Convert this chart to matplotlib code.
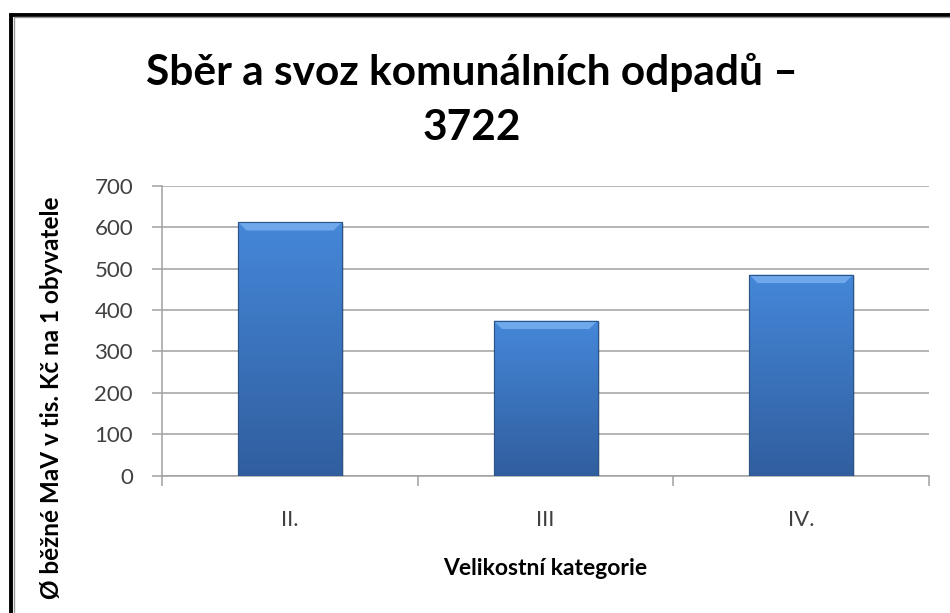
import matplotlib
matplotlib.use("Agg")
import matplotlib.pyplot as plt
import matplotlib.patches as patches
import numpy as np

categories = ["II.", "III", "IV."]
values = [612, 374, 485]
y_ticks = [0, 100, 200, 300, 400, 500, 600, 700]

title = "Sběr a svoz komunálních odpadů –\n3722"
ylabel = "Ø běžné MaV v tis. Kč na 1 obyvatele"
xlabel = "Velikostní kategorie"

FONT = ["Lato", "DejaVu Sans"]
GRID = "#a0a0a0"
TEXT = "#404040"

fig = plt.figure(figsize=(9.5, 6.13), dpi=100)
ax = fig.add_axes([0.1708, 0.224, 0.8071, 0.4731])

x = np.arange(len(categories))
bars = ax.bar(x, values, width=0.406, color="#3d7cc9", edgecolor="#2b5488",
              linewidth=0.8, zorder=3)

# vertical gradient + bevel on each bar, clipped to the bar patch
for bar in bars:
    x0, y0 = bar.get_x(), bar.get_y()
    w, h = bar.get_width(), bar.get_height()
    t = np.linspace(0, 1, 200)[:, None]  # 0 = top, 1 = bottom
    top = np.array([0.27, 0.53, 0.85])
    bot = np.array([0.19, 0.37, 0.62])
    col = top + (bot - top) * t
    img = np.repeat(col[:, None, :], 2, axis=1)
    im = ax.imshow(img, extent=[x0, x0 + w, y0, y0 + h], aspect="auto",
                   zorder=3.1, interpolation="bilinear")
    im.set_clip_path(bar)
    # soft shadow
    ax.add_patch(patches.Rectangle((x0 + 0.008, y0 - 4), w, h, color="#000000",
                                   alpha=0.12, zorder=2.9, linewidth=0))
    # bevel at top
    bh = 20
    bi = w * 0.08
    ax.add_patch(patches.Polygon([(x0, y0 + h), (x0 + w, y0 + h),
                                  (x0 + w - bi, y0 + h - bh), (x0 + bi, y0 + h - bh)],
                                 closed=True, color="#6fa9ec", zorder=3.2, linewidth=0))
    ax.add_patch(patches.Rectangle((x0, y0), w, h, fill=False, edgecolor="#2b5488",
                                   linewidth=0.8, zorder=3.3))

ax.set_xlim(-0.5, len(categories) - 0.5)
ax.set_ylim(0, 700)
ax.set_yticks(y_ticks)
ax.set_yticklabels([str(v) for v in y_ticks], fontfamily=FONT, fontsize=16, color=TEXT)
ax.yaxis.grid(True, color=GRID, linewidth=1.1, zorder=0)
ax.set_axisbelow(True)

ax.set_xticks(np.arange(-0.5, len(categories)), labels=[])
ax.set_xticks(x, labels=categories, minor=True)
ax.tick_params(axis="x", which="major", direction="out", length=7, width=1.1, color=GRID)
ax.tick_params(axis="x", which="minor", length=0, pad=25, labelsize=16, labelcolor=TEXT)
for lab in ax.get_xticklabels(minor=True):
    lab.set_fontfamily(FONT)
ax.tick_params(axis="y", direction="out", length=7, width=1.1, color=GRID, pad=14)

for s in ["top", "right"]:
    ax.spines[s].set_visible(False)
for s in ["left", "bottom"]:
    ax.spines[s].set_color(GRID)
    ax.spines[s].set_linewidth(1.1)

ax.set_xlabel(xlabel, fontfamily=FONT, fontsize=16.5, fontweight="bold", labelpad=20)
ax.set_ylabel(ylabel, fontfamily=FONT, fontsize=17.5, fontweight="bold")
ax.yaxis.set_label_coords(-0.13, 0.27)

fig.text(0.497, 0.837, title, ha="center", va="center", fontfamily=FONT,
         fontsize=30.5, fontweight="bold", linespacing=1.55)

# outer chart frame
fig.patches.append(patches.Rectangle((11 / 950, -0.2), 1.5, (613 - 14.5) / 613 + 0.2,
                                     transform=fig.transFigure, fill=False,
                                     edgecolor="black", linewidth=2.8))
fig.patches.append(patches.Rectangle((14 / 950, -0.2), 1.5, (613 - 17) / 613 + 0.2,
                                     transform=fig.transFigure, fill=False,
                                     edgecolor="#999999", linewidth=1.0))

fig.savefig("out.png", dpi=100)
